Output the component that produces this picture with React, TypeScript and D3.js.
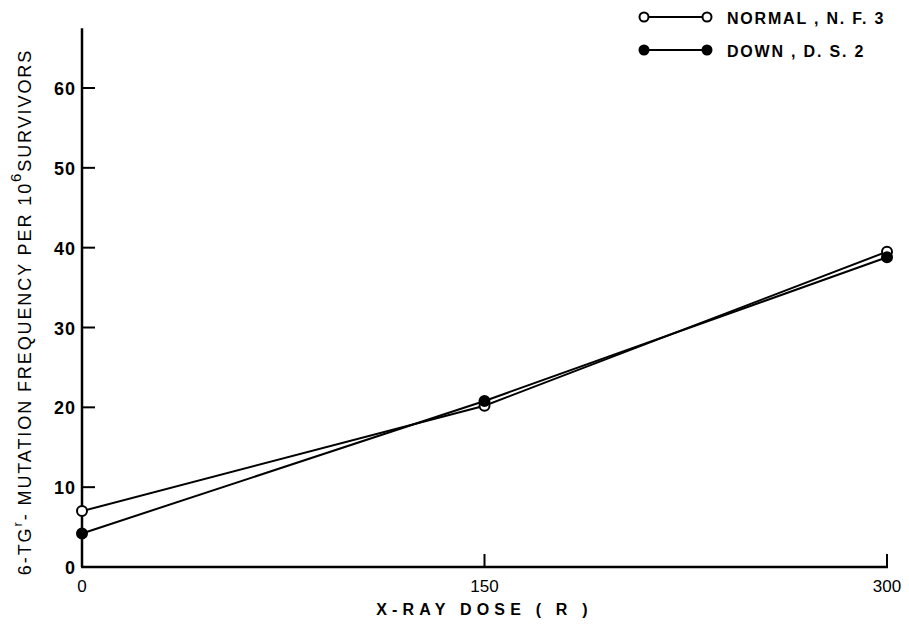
import React, { useEffect, useRef } from "react";
import * as d3 from "d3";

const doses = [0, 150, 300];
const normalValues = [7.0, 20.2, 39.5];
const downValues = [4.2, 20.8, 38.8];
const yTicks = [0, 10, 20, 30, 40, 50, 60];
const xTicks = [0, 150, 300];

const width = 909;
const height = 624;

export default function App() {
  const ref = useRef<SVGSVGElement>(null);

  useEffect(() => {
    const svg = d3.select(ref.current);
    svg.selectAll("*").remove();

    const x = d3.scaleLinear().domain([0, 300]).range([82, 887]);
    const y = d3.scaleLinear().domain([0, 60]).range([567, 88]);
    const font = "'Liberation Sans', Arial, sans-serif";

    // axes
    svg.append("line")
      .attr("x1", x(0)).attr("x2", x(0))
      .attr("y1", y(67.5)).attr("y2", y(0))
      .attr("stroke", "#000").attr("stroke-width", 2.5);
    svg.append("line")
      .attr("x1", x(0) - 1).attr("x2", x(300) + 1)
      .attr("y1", y(0)).attr("y2", y(0))
      .attr("stroke", "#000").attr("stroke-width", 2.5);

    // y ticks
    yTicks.forEach(t => {
      if (t > 0) {
        svg.append("line")
          .attr("x1", x(0)).attr("x2", x(0) + 13)
          .attr("y1", y(t)).attr("y2", y(t))
          .attr("stroke", "#000").attr("stroke-width", 2);
      }
      svg.append("text")
        .attr("x", x(0) - 6).attr("y", y(t) + 7)
        .attr("text-anchor", "end")
        .attr("letter-spacing", 1)
        .style("font", `bold 18px ${font}`)
        .text(t);
    });

    // x ticks
    xTicks.forEach(t => {
      if (t > 0) {
        svg.append("line")
          .attr("x1", x(t)).attr("x2", x(t))
          .attr("y1", y(0)).attr("y2", y(0) - 13)
          .attr("stroke", "#000").attr("stroke-width", 2);
      }
      svg.append("text")
        .attr("x", x(t)).attr("y", y(0) + 25)
        .attr("text-anchor", "middle")
        .style("font", `17px ${font}`)
        .text(t);
    });

    // axis labels
    svg.append("text")
      .attr("x", x(150)).attr("y", 615)
      .attr("text-anchor", "middle")
      .attr("letter-spacing", 5.2)
      .style("font", `bold 16px ${font}`)
      .text("X-RAY DOSE ( R )");

    const yl = svg.append("text")
      .attr("text-anchor", "middle")
      .attr("transform", "translate(31," + 312 + ")rotate(-90)")
      .attr("letter-spacing", 1.9)
      .style("font", `18px ${font}`);
    yl.append("tspan").text("6-TG");
    yl.append("tspan").attr("dy", -9).style("font-size", "13px").text("r");
    yl.append("tspan").attr("dy", 9).text("- MUTATION FREQUENCY PER 10");
    yl.append("tspan").attr("dy", -10).style("font-size", "15px").text("6");
    yl.append("tspan").attr("dy", 10).text("SURVIVORS");

    const line = d3.line<number>()
      .x((d, i) => x(doses[i]))
      .y(d => y(d));

    const series = [
      { values: normalValues, fill: "#fff", label: "NORMAL , N. F. 3" },
      { values: downValues, fill: "#000", label: "DOWN , D. S. 2" },
    ];

    series.forEach(s => {
      svg.append("path")
        .datum(s.values)
        .attr("fill", "none")
        .attr("stroke", "#000")
        .attr("stroke-width", 2)
        .attr("d", line);
      svg.selectAll(null)
        .data(s.values)
        .enter()
        .append("circle")
        .attr("cx", (d, i) => x(doses[i]))
        .attr("cy", d => y(d))
        .attr("r", 5)
        .attr("fill", s.fill)
        .attr("stroke", "#000")
        .attr("stroke-width", 2);
    });

    // legend
    series.forEach((s, i) => {
      const ly = 17 + i * 33;
      svg.append("line")
        .attr("x1", 644).attr("x2", 707)
        .attr("y1", ly).attr("y2", ly)
        .attr("stroke", "#000").attr("stroke-width", 2);
      [644, 707].forEach(cx => {
        svg.append("circle")
          .attr("cx", cx).attr("cy", ly).attr("r", 4.5)
          .attr("fill", s.fill).attr("stroke", "#000").attr("stroke-width", 2);
      });
      svg.append("text")
        .attr("x", 727).attr("y", ly + 7)
        .attr("letter-spacing", 1.8)
        .style("font", `bold 16px ${font}`)
        .text(s.label);
    });
  }, []);

  return (
    <svg
      ref={ref}
      width={width}
      height={height}
      style={{ position: "absolute", left: 0, top: 0, background: "#fff" }}
    />
  );
}
